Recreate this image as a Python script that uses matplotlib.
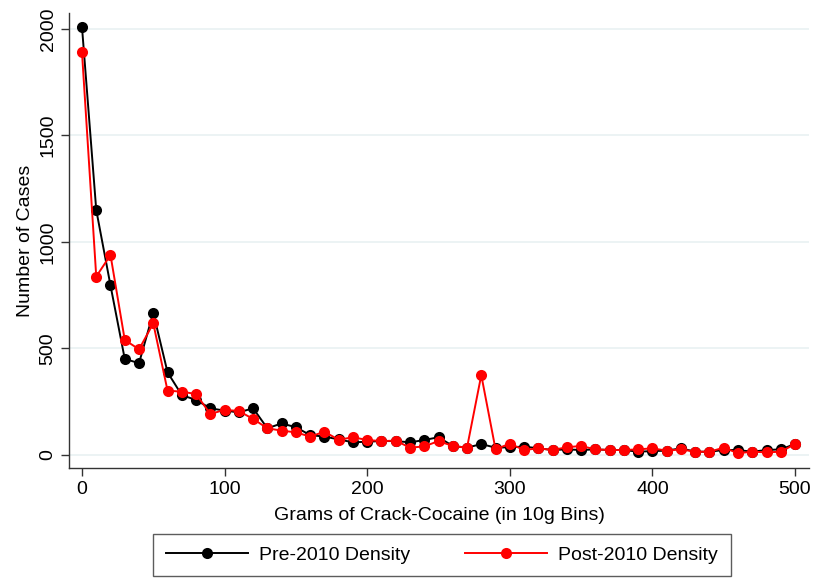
import numpy as np
import matplotlib
matplotlib.use("Agg")
from matplotlib import pyplot as plt

plt.rcParams['font.family'] = ['Liberation Sans', 'DejaVu Sans']

grams = np.arange(0, 510, 10)

pre_2010 = [2010, 1150, 795, 450, 430, 667, 387, 280, 257, 218,
            207, 199, 218, 124, 147, 129, 92, 85, 72, 58,
            61, 64, 64, 58, 69, 82, 41, 33, 50, 33,
            35, 38, 30, 22, 25, 22, 25, 22, 22, 14,
            17, 19, 30, 14, 14, 22, 22, 14, 22, 25,
            50]

post_2010 = [1891, 837, 938, 539, 495, 617, 301, 296, 285, 191,
             211, 205, 168, 124, 113, 105, 85, 108, 70, 82,
             69, 64, 66, 33, 39, 64, 41, 33, 374, 25,
             52, 22, 30, 22, 35, 41, 25, 22, 22, 25,
             30, 19, 25, 14, 14, 33, 7, 14, 11, 14,
             50]

GRID = "#eaf2f3"
AXC = "#333333"
FS = 14

fig = plt.figure(figsize=(8.18, 5.78), dpi=100)
ax = fig.add_axes([69 / 818, 1 - 468 / 578, 740 / 818, 455 / 578])

ax.plot(grams, pre_2010, color="black", lw=1.4, marker="o", ms=8,
        markeredgewidth=0, label="Pre-2010 Density", zorder=3)
ax.plot(grams, post_2010, color="#ff0000", lw=1.4, marker="o", ms=8,
        markeredgewidth=0, label="Post-2010 Density", zorder=4)

ax.set_xlim(-9.1, 509.8)
ax.set_ylim(-62.5, 2075)
ax.set_xticks(range(0, 501, 100))
ax.set_yticks(range(0, 2001, 500))
for v in range(0, 2001, 500):
    ax.axhline(v, color=GRID, lw=1.3, zorder=1)

for side in ("top", "right"):
    ax.spines[side].set_visible(False)
for side in ("left", "bottom"):
    ax.spines[side].set_color(AXC)
    ax.spines[side].set_linewidth(1.0)
ax.tick_params(axis="both", colors=AXC, labelcolor="black", length=6,
               width=1.0, labelsize=FS, pad=3)
plt.setp(ax.get_yticklabels(), rotation=90, va="center")

ax.set_xlabel("Grams of Crack-Cocaine (in 10g Bins)", fontsize=FS, labelpad=7)
ax.set_ylabel("Number of Cases", fontsize=FS, labelpad=4)

fig.legend(loc="center", bbox_to_anchor=(442 / 818, 1 - 555 / 578), ncol=2,
           frameon=True, fancybox=False, edgecolor=AXC, fontsize=FS,
           handlelength=4.2, columnspacing=2.8, borderpad=0.65,
           handletextpad=0.6, markerscale=1.0)

fig.savefig("out.png", dpi=100)
